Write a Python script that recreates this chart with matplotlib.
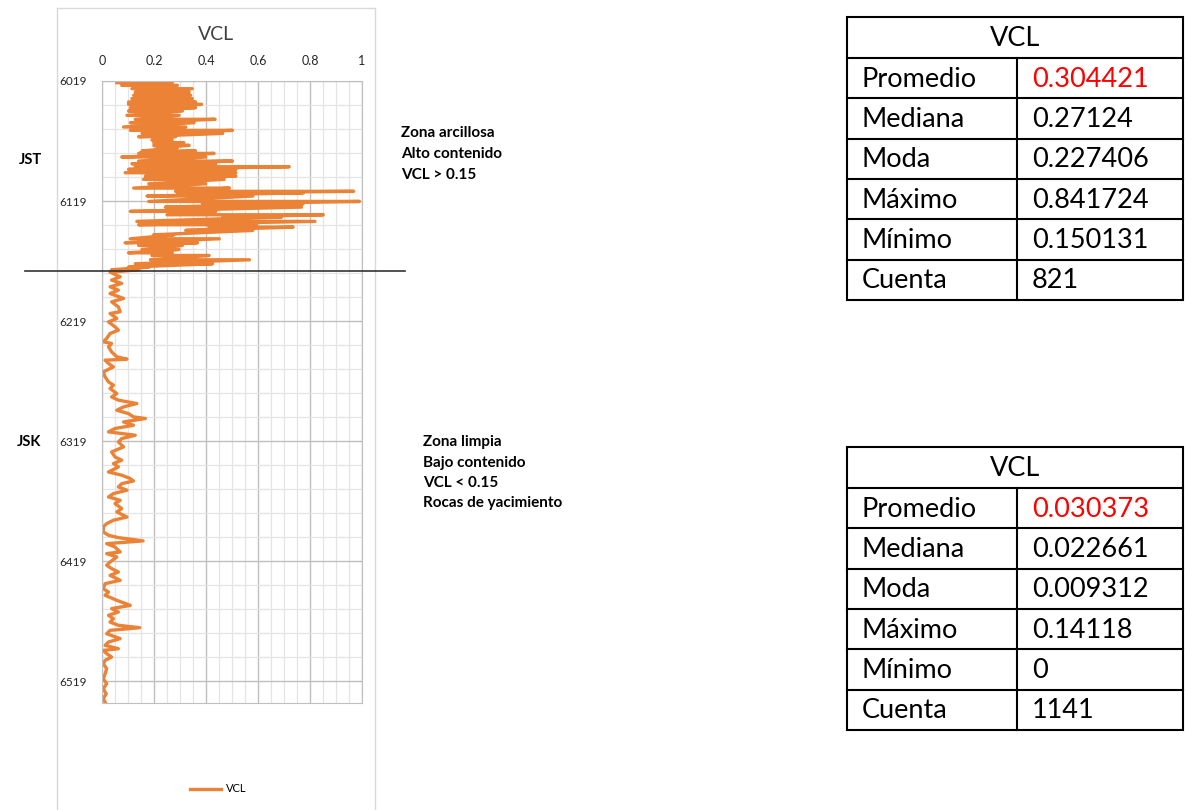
import matplotlib
matplotlib.use("Agg")
import matplotlib.pyplot as plt
import matplotlib.transforms as mtransforms
from matplotlib.patches import Rectangle
from matplotlib.ticker import MultipleLocator, FixedLocator

# --- JST zone (shaly): each row = one horizontal swing of the log (depth, low VCL, high VCL) ---
jst_depth = [6020.4, 6022.6, 6025.4, 6028.2, 6030.9, 6033.7, 6036.5, 6038.4, 6041.2, 6044.0,
             6047.6, 6050.9, 6053.7, 6057.3, 6060.1, 6062.6, 6065.4, 6068.2, 6070.4, 6072.6,
             6074.6, 6077.3, 6079.3, 6082.3, 6085.7, 6087.9, 6090.4, 6092.6, 6095.4, 6098.2,
             6100.9, 6104.6, 6108.2, 6110.9, 6112.1, 6114.8, 6119.3, 6121.2, 6124.0, 6127.6,
             6130.4, 6132.3, 6135.9, 6138.7, 6140.7, 6143.4, 6147.1, 6150.4, 6153.7, 6155.9,
             6159.3, 6162.1, 6164.3, 6167.9, 6171.2, 6174.0, 6176.2]
jst_low = [0.057, 0.076, 0.115, 0.128, 0.122, 0.115, 0.102, 0.102, 0.109, 0.102,
           0.096, 0.128, 0.109, 0.083, 0.109, 0.154, 0.141, 0.192, 0.199, 0.199,
           0.212, 0.154, 0.141, 0.076, 0.141, 0.115, 0.128, 0.102, 0.089, 0.167,
           0.160, 0.180, 0.122, 0.283, 0.290, 0.173, 0.180, 0.386, 0.244, 0.109,
           0.250, 0.464, 0.134, 0.141, 0.412, 0.322, 0.199, 0.109, 0.089, 0.141,
           0.154, 0.102, 0.192, 0.186, 0.128, 0.102, 0.037]
jst_high = [0.270, 0.290, 0.347, 0.335, 0.341, 0.347, 0.360, 0.383, 0.360, 0.309,
            0.296, 0.435, 0.354, 0.322, 0.502, 0.464, 0.283, 0.270, 0.315, 0.335,
            0.290, 0.360, 0.431, 0.399, 0.502, 0.438, 0.720, 0.515, 0.515, 0.515,
            0.470, 0.399, 0.490, 0.968, 0.774, 0.580, 0.990, 0.774, 0.767, 0.438,
            0.851, 0.690, 0.819, 0.593, 0.735, 0.580, 0.276, 0.451, 0.367, 0.309,
            0.296, 0.270, 0.412, 0.567, 0.425, 0.180, 0.141]

# --- JSK zone (clean) ---
jsk_depth = [6178.2, 6182.1, 6184.8, 6187.6, 6190.4, 6193.2, 6196.0, 6200.1, 6202.9, 6207.1,
             6211.2, 6212.6, 6216.8, 6219.6, 6223.7, 6226.5, 6229.3, 6233.4, 6236.2, 6237.6,
             6240.4, 6244.6, 6248.7, 6250.7, 6251.5, 6254.3, 6257.1, 6261.2, 6265.4, 6269.6,
             6272.3, 6275.1, 6279.3, 6282.1, 6284.8, 6287.6, 6290.4, 6293.2, 6296.0, 6298.7,
             6300.1, 6302.9, 6305.7, 6308.4, 6311.2, 6314.0, 6316.8, 6319.6, 6323.7, 6327.9,
             6332.1, 6334.8, 6337.6, 6340.4, 6344.6, 6347.3, 6350.1, 6352.1, 6354.3, 6357.1,
             6359.8, 6362.6, 6365.4, 6368.2, 6370.9, 6375.1, 6377.9, 6382.1, 6384.8, 6387.6,
             6390.4, 6394.6, 6397.3, 6399.3, 6402.0, 6404.3, 6407.1, 6411.2, 6412.6, 6415.4,
             6419.6, 6422.3, 6425.1, 6427.9, 6430.7, 6434.8, 6437.6, 6441.8, 6444.6, 6447.3,
             6451.5, 6455.7, 6458.4, 6461.2, 6464.0, 6466.8, 6469.6, 6472.3, 6474.3, 6476.5,
             6479.3, 6483.4, 6486.2, 6489.0, 6491.8, 6493.2, 6495.9, 6498.7, 6501.5, 6504.3,
             6508.4, 6512.6, 6516.8, 6520.9, 6525.1, 6529.3, 6533.4, 6536.2]
jsk_vcl = [0.031, 0.070, 0.037, 0.076, 0.031, 0.063, 0.031, 0.083, 0.037, 0.063,
           0.070, 0.031, 0.057, 0.025, 0.050, 0.063, 0.031, 0.018, 0.005, 0.037,
           0.025, 0.037, 0.057, 0.096, 0.012, 0.025, 0.044, 0.005, 0.012, 0.025,
           0.044, 0.031, 0.057, 0.037, 0.063, 0.134, 0.083, 0.057, 0.102, 0.121,
           0.167, 0.083, 0.121, 0.050, 0.025, 0.128, 0.076, 0.063, 0.083, 0.037,
           0.050, 0.076, 0.044, 0.063, 0.025, 0.076, 0.109, 0.121, 0.076, 0.063,
           0.096, 0.044, 0.025, 0.070, 0.050, 0.076, 0.057, 0.096, 0.044, 0.018,
           0.005, 0.005, 0.025, 0.063, 0.158, 0.018, 0.050, 0.070, 0.018, 0.057,
           0.031, 0.018, 0.037, 0.063, 0.031, 0.070, 0.012, 0.005, 0.025, 0.012,
           0.057, 0.109, 0.037, 0.063, 0.025, 0.044, 0.031, 0.063, 0.145, 0.031,
           0.018, 0.070, 0.025, 0.012, 0.063, 0.005, 0.018, 0.037, 0.012, 0.005,
           0.018, 0.012, 0.005, 0.018, 0.005, 0.016, 0.005, 0.012]

zone_top = 6019
zone_boundary = 6177.3
zone_bottom = 6537
depth_ticks = [6019, 6119, 6219, 6319, 6419, 6519]
vcl_ticks = [0, 0.2, 0.4, 0.6, 0.8, 1]
vcl_tick_labels = ["0", "0.2", "0.4", "0.6", "0.8", "1"]

# --- stats tables ---
stat_names = ["Promedio", "Mediana", "Moda", "Máximo", "Mínimo", "Cuenta"]
jst_stats = ["0.304421", "0.27124", "0.227406", "0.841724", "0.150131", "821"]
jsk_stats = ["0.030373", "0.022661", "0.009312", "0.14118", "0", "1141"]

# build the full log
depth, vcl = [], []
for d, lo, hi in zip(jst_depth, jst_low, jst_high):
    depth += [d, d]
    vcl += [lo, hi]
depth += jsk_depth
vcl += jsk_vcl

W, H = 1185, 810
plt.rcParams['font.family'] = ['Lato', 'DejaVu Sans']
fig = plt.figure(figsize=(W / 100, H / 100), dpi=100)

# overlay in pixel coords for frame, notes and tables
ov = fig.add_axes([0, 0, 1, 1], zorder=3)
ov.set_xlim(0, W)
ov.set_ylim(H, 0)
ov.axis('off')

ax = fig.add_axes([102 / W, 1 - 703 / H, 260 / W, 622 / H], zorder=2)
ax.plot(vcl, depth, color='#EC8236', lw=2.4, label='VCL')
ax.set_xlim(0, 1)
ax.set_ylim(zone_bottom, zone_top)
ax.xaxis.tick_top()
ax.set_xticks(vcl_ticks)
ax.set_xticklabels(vcl_tick_labels)
ax.xaxis.set_minor_locator(MultipleLocator(0.05))
ax.set_yticks(depth_ticks)
ax.yaxis.set_minor_locator(FixedLocator(range(zone_top + 20, zone_bottom, 20)))
ax.set_axisbelow(True)
ax.grid(which='major', color='#BFBFBF', lw=1.0)
ax.grid(which='minor', color='#E4E4E4', lw=0.9)
ax.tick_params(which='both', length=0, colors='#262626')
ax.tick_params(axis='x', pad=10, labelsize=9)
ax.tick_params(axis='y', pad=11, labelsize=8.5)
for s in ax.spines.values():
    s.set_color('#BFBFBF')

ax.legend(loc='center', bbox_to_anchor=(218 / W, 1 - 789 / H), bbox_transform=fig.transFigure,
          frameon=False, fontsize=8, handlelength=2.8, handletextpad=0.4)

# chart frame + title
frame_c = '#D9D9D9'
ov.plot([57, 57], [8, H], color=frame_c, lw=1)
ov.plot([375, 375], [8, H], color=frame_c, lw=1)
ov.plot([57, 375], [8, 8], color=frame_c, lw=1)
ov.text(216, 35, 'VCL', ha='center', va='center', fontsize=14, color='#404040')

# zone boundary line
blend = mtransforms.blended_transform_factory(ov.transData, ax.transData)
ov.plot([25, 405], [zone_boundary, zone_boundary], color='#333333', lw=1.2,
        transform=blend, clip_on=False)

# zone notes
ov.text(19, 160, 'JST', fontsize=10.5, fontweight='bold', va='center')
ov.text(17, 442, 'JSK', fontsize=10.5, fontweight='bold', va='center')
for i, t in enumerate(['Zona arcillosa', 'Alto contenido', 'VCL > 0.15']):
    ov.text(401, 133 + i * 21, t, fontsize=11, fontweight='bold', va='center')
for i, t in enumerate(['Zona limpia', 'Bajo contenido', 'VCL < 0.15', 'Rocas de yacimiento']):
    ov.text(423, 442 + i * 20.5, t, fontsize=11, fontweight='bold', va='center')


def draw_table(top, values):
    left, mid, right = 847, 1017, 1183
    head_h, row_h = 41, 40.3
    bottom = top + head_h + row_h * len(values)
    ov.add_patch(Rectangle((left, top), right - left, bottom - top, fill=False,
                           ec='black', lw=1.5))
    for i in range(len(values)):
        y = top + head_h + i * row_h
        ov.plot([left, right], [y, y], color='black', lw=1.5)
    ov.plot([mid, mid], [top + head_h, bottom], color='black', lw=1.5)
    ov.text((left + right) / 2, top + head_h / 2 + 1, 'VCL', ha='center', va='center', fontsize=19.5)
    for i, (name, val) in enumerate(zip(stat_names, values)):
        y = top + head_h + (i + 0.5) * row_h + 1
        ov.text(862, y, name, va='center', fontsize=19.5)
        ov.text(1032, y, val, va='center', fontsize=19.5, color='red' if i == 0 else 'black')


draw_table(17, jst_stats)
draw_table(447, jsk_stats)

fig.savefig('out.png', dpi=100)
